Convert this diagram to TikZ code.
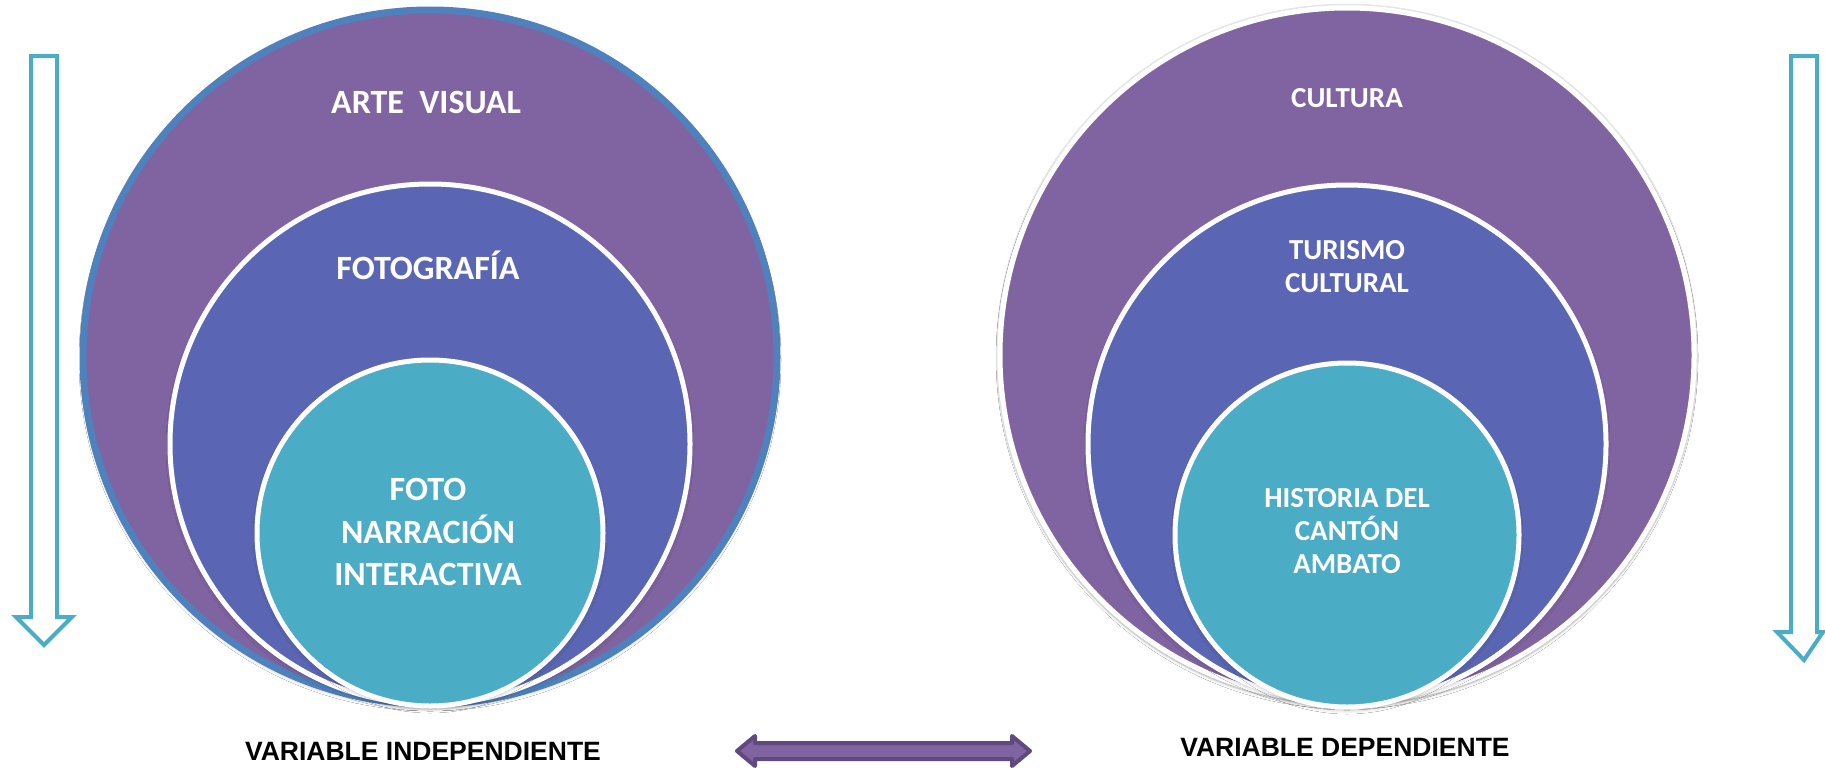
\documentclass[tikz,border=0pt]{standalone}
\usepackage{fontspec}
\usetikzlibrary{shadows.blur}
\setmainfont{Carlito}
\newfontfamily\labelfont{Liberation Sans}
\definecolor{cPurple}{HTML}{8064A2}
\definecolor{cMid}{HTML}{5A66B3}
\definecolor{cAqua}{HTML}{4BACC6}
\definecolor{cBlue}{HTML}{4F81BD}
\definecolor{cDark}{HTML}{5E4A7E}
\tikzset{
  ring/.style={circle, inner sep=0pt, line width=5pt,
    blur shadow={shadow xshift=0pt, shadow yshift=-3pt, shadow opacity=25, shadow blur steps=6, shadow blur radius=4pt}},
  outerL/.style={ring, fill=cPurple, draw=cBlue, line width=7pt},
  outerR/.style={ring, fill=cPurple, draw=white},
  midc/.style={ring, fill=cMid, draw=white},
  innc/.style={ring, fill=cAqua, draw=white},
  bigtxt/.style={text=white, font=\bfseries\fontsize{34}{42.5}\selectfont, align=center, inner sep=0pt},
  smtxt/.style={text=white, font=\bfseries\fontsize{29}{33}\selectfont, align=center, inner sep=0pt},
  lbl/.style={text=black, font=\labelfont\bfseries\fontsize{26.5}{30}\selectfont, inner sep=0pt},
  downarrow/.style={draw=cAqua, fill=white, line width=4pt, line join=miter},
  bothways/.style={draw=cDark, fill=cPurple, line width=4pt, line join=round}
}
\begin{document}
\begin{tikzpicture}[x=1pt, y=-1pt]
\useasboundingbox[fill=white] (0,0) rectangle (1825,771);

% left set of circles
\node[outerL, minimum size=694pt] (oL) at (430,357) {};
\node[midc, minimum size=520pt] (mL) at (430,444) {};
\node[innc, minimum size=346pt] (iL) at (430,533) {};

% right set of circles
\draw[gray!20, line width=1.5pt] (1347,355) circle (350.5pt);
\node[outerR, minimum size=694pt] (oR) at (1347,355) {};
\node[midc, minimum size=518pt] (mR) at (1347,444) {};
\node[innc, minimum size=344pt] (iR) at (1347,535) {};

% texts left
\node[bigtxt, anchor=base] (t1) at (426,113) {ARTE\ \ VISUAL};
\node[bigtxt, anchor=base] (t2) at (428,279) {FOTOGRAFÍA};
\node[bigtxt] (t3) at (428,532) {FOTO\\NARRACIÓN\\INTERACTIVA};

% texts right
\node[smtxt, anchor=base] (t4) at (1347,107) {CULTURA};
\node[smtxt] (t5) at (1347,267) {TURISMO\\CULTURAL};
\node[smtxt] (t6) at (1347,531) {HISTORIA DEL\\CANTÓN\\AMBATO};

% bottom labels
\node[lbl, anchor=base] (l1) at (423,760) {VARIABLE INDEPENDIENTE};
\node[lbl, anchor=base] (l2) at (1345,756) {VARIABLE DEPENDIENTE};

% left down arrow
\draw[downarrow] (31,56) -- (57,56) -- (57,617) -- (72,617) -- (44,645) -- (16,617) -- (31,617) -- cycle;
% right down arrow
\draw[downarrow] (1791,56) -- (1817,56) -- (1817,632) -- (1823,632) -- (1804,660) -- (1777,632) -- (1791,632) -- cycle;

% double arrow
\draw[bothways] (737,751) -- (755,736) -- (755,743) -- (1012,743) -- (1012,736) -- (1030,751) -- (1012,766) -- (1012,759) -- (755,759) -- (755,766) -- cycle;
\end{tikzpicture}
\end{document}
